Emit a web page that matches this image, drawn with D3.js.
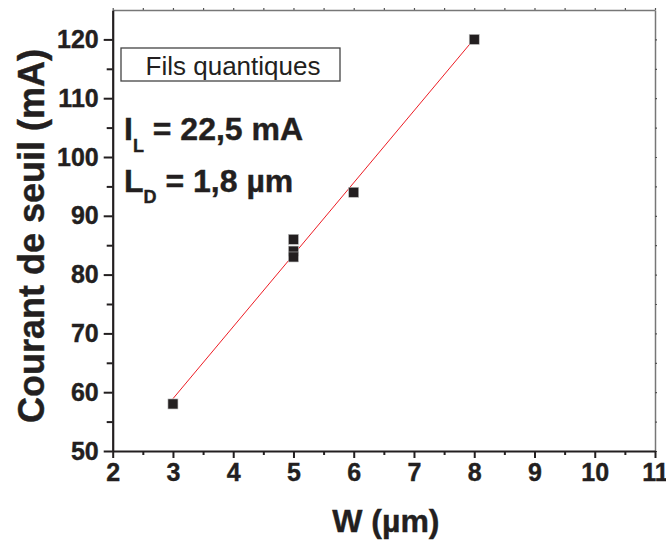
<!DOCTYPE html>
<html>
<head>
<meta charset="utf-8">
<script src="https://cdn.jsdelivr.net/npm/d3@7"></script>
<style>
  html, body { margin: 0; padding: 0; background: #fff; }
  svg { display: block; font-family: "Liberation Sans", Arial, sans-serif; }
</style>
</head>
<body>
<svg id="chart" width="666" height="543"></svg>
<script>
// ---- data ----
const widths = [3, 5, 5, 5, 6, 8];            // W (µm)
const currents = [58, 86, 84, 83, 94, 120];   // Courant de seuil (mA)
const fitX = [3, 8];                          // fitted line ends (W)
const fitY = [58.9, 120.1];                   // fitted line ends (mA)
const xTicks = [2, 3, 4, 5, 6, 7, 8, 9, 10, 11];
const xMinorTicks = [2.5, 3.5, 4.5, 5.5, 6.5, 7.5, 8.5, 9.5, 10.5];
const yTicks = [50, 60, 70, 80, 90, 100, 110, 120];
const yMinorTicks = [55, 65, 75, 85, 95, 105, 115, 125];
const xTitle = "W (µm)";
const yTitle = "Courant de seuil (mA)";
const legendText = "Fils quantiques";

const svg = d3.select("#chart");
const L = 112.7, R = 655, T = 10, B = 451;
const x = d3.scaleLinear().domain([2, 11]).range([L, R]);
const y = d3.scaleLinear().domain([50, 125]).range([B, T]);
const ink = "#231f20";
const font = "Liberation Sans, Arial, sans-serif";

// top & right frame (grey, small ticks)
const topAx = svg.append("g").attr("transform", `translate(0,${T})`)
  .call(d3.axisTop(x).tickValues(xTicks.concat(xMinorTicks)).tickSize(2).tickSizeOuter(0).tickFormat(""));
const rightAx = svg.append("g").attr("transform", `translate(${R},0)`)
  .call(d3.axisRight(y).tickValues(yTicks.concat(yMinorTicks).filter(v => v < 125)).tickSize(2).tickSizeOuter(0).tickFormat(""));
[topAx, rightAx].forEach(g => {
  g.select(".domain").attr("stroke", "#777").attr("stroke-width", 1.5);
  g.selectAll(".tick line").attr("stroke", "#555").attr("stroke-width", 1.2);
});

// bottom axis
const xMinor = svg.append("g").attr("transform", `translate(0,${B})`)
  .call(d3.axisBottom(x).tickValues(xMinorTicks).tickSize(4).tickSizeOuter(0).tickFormat(""));
xMinor.select(".domain").remove();
xMinor.selectAll(".tick line").attr("stroke", ink).attr("stroke-width", 2);
const xAx = svg.append("g").attr("transform", `translate(0,${B})`)
  .call(d3.axisBottom(x).tickValues(xTicks).tickSize(7).tickSizeOuter(0).tickPadding(5).tickFormat(d3.format("d")));
xAx.select(".domain").attr("stroke", ink).attr("stroke-width", 2.2);
xAx.selectAll(".tick line").attr("stroke", ink).attr("stroke-width", 2);
xAx.selectAll(".tick text").attr("fill", ink).attr("font-size", 25).attr("font-weight", "bold")
  .attr("font-family", font).attr("stroke", ink).attr("stroke-width", 0.4);

// left axis
const yMinor = svg.append("g").attr("transform", `translate(${L},0)`)
  .call(d3.axisLeft(y).tickValues(yMinorTicks.filter(v => v < 125)).tickSize(6).tickSizeOuter(0).tickFormat(""));
yMinor.select(".domain").remove();
yMinor.selectAll(".tick line").attr("stroke", ink).attr("stroke-width", 2);
const yAx = svg.append("g").attr("transform", `translate(${L},0)`)
  .call(d3.axisLeft(y).tickValues(yTicks).tickSize(9).tickSizeOuter(0).tickPadding(5).tickFormat(d3.format("d")));
yAx.select(".domain").attr("stroke", ink).attr("stroke-width", 2.2);
yAx.selectAll(".tick line").attr("stroke", ink).attr("stroke-width", 2);
yAx.selectAll(".tick text").attr("fill", ink).attr("font-size", 25).attr("font-weight", "bold")
  .attr("font-family", font).attr("stroke", ink).attr("stroke-width", 0.4);

// fitted line
const line = d3.line().x(d => x(d[0])).y(d => y(d[1]));
svg.append("path").datum(d3.zip(fitX, fitY)).attr("d", line)
  .attr("fill", "none").attr("stroke", "#ed1c24").attr("stroke-width", 1);

// points
const s = 10;
svg.append("g").selectAll("rect").data(d3.zip(widths, currents)).join("rect")
  .attr("x", d => x(d[0]) - s / 2).attr("y", d => y(d[1]) - s / 2)
  .attr("width", s).attr("height", s).attr("fill", ink)
  .attr("stroke", "#bbb").attr("stroke-width", 0.6);

// legend box
svg.append("rect").attr("x", 121).attr("y", 48).attr("width", 219).attr("height", 33)
  .attr("fill", "#fff").attr("stroke", "#444").attr("stroke-width", 1.3);
svg.append("text").attr("x", 233).attr("y", 75).attr("text-anchor", "middle")
  .attr("font-size", 26).attr("fill", ink).text(legendText);

// annotations
const ann1 = svg.append("text").attr("x", 124).attr("y", 140).attr("font-size", 32)
  .attr("font-weight", "bold").attr("fill", ink).attr("stroke", ink).attr("stroke-width", 0.4);
ann1.append("tspan").text("I");
ann1.append("tspan").attr("font-size", 18).attr("dy", 12).text("L");
ann1.append("tspan").attr("dy", -12).text(" = 22,5 mA");
const ann2 = svg.append("text").attr("x", 124).attr("y", 192).attr("font-size", 32)
  .attr("font-weight", "bold").attr("fill", ink).attr("stroke", ink).attr("stroke-width", 0.4);
ann2.append("tspan").text("L");
ann2.append("tspan").attr("font-size", 18).attr("dy", 11).text("D");
ann2.append("tspan").attr("dy", -11).text(" = 1,8 µm");

// axis titles
svg.append("text").attr("x", (L + R) / 2 + 2).attr("y", 532).attr("text-anchor", "middle")
  .attr("font-size", 32).attr("font-weight", "bold").attr("fill", ink)
  .attr("stroke", ink).attr("stroke-width", 0.4).text(xTitle);
svg.append("text").attr("transform", `translate(44,${236}) rotate(-90)`).attr("text-anchor", "middle")
  .attr("font-size", 36).attr("font-weight", "bold").attr("fill", ink)
  .attr("stroke", ink).attr("stroke-width", 0.4).text(yTitle);
</script>
</body>
</html>
